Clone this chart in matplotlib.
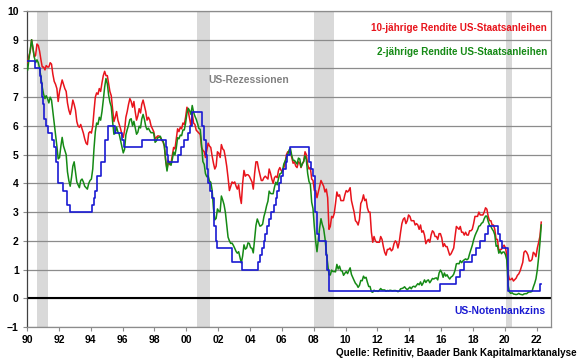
import numpy as np
import pandas as pd
import matplotlib
matplotlib.use('Agg')
import matplotlib.pyplot as plt

plt.rcParams['font.family'] = ['Liberation Sans', 'DejaVu Sans']
plt.rcParams['font.weight'] = 'bold'
#-------------------------------------------------------------------------------
# Data (monthly, starting Jan 1990)
#-------------------------------------------------------------------------------
start_month = '1990-01'

y10 = [8.2, 8.45, 8.6, 9.0, 8.7, 8.4, 8.45, 8.85, 8.8, 8.6, 8.3, 8.05,
       8.05, 7.95, 8.1, 8.05, 8.05, 8.2, 8.15, 7.8, 7.55, 7.45, 7.3, 6.85,
       7.2, 7.4, 7.6, 7.45, 7.3, 7.2, 6.8, 6.55, 6.4, 6.6, 6.9, 6.75,
       6.55, 6.15, 6.0, 5.95, 6.05, 5.9, 5.75, 5.55, 5.4, 5.35, 5.75, 5.8,
       5.75, 6.0, 6.5, 7.0, 7.15, 7.1, 7.3, 7.2, 7.5, 7.75, 7.9, 7.75,
       7.75, 7.45, 7.2, 7.05, 6.6, 6.15, 6.3, 6.5, 6.2, 6.05, 5.9, 5.7,
       5.6, 5.85, 6.3, 6.5, 6.75, 6.95, 6.85, 6.65, 6.85, 6.5, 6.2, 6.35,
       6.6, 6.45, 6.75, 6.9, 6.7, 6.5, 6.2, 6.3, 6.2, 6.0, 5.9, 5.8,
       5.55, 5.6, 5.65, 5.65, 5.6, 5.5, 5.45, 5.3, 4.8, 4.5, 4.8, 4.65,
       4.7, 5.0, 5.25, 5.2, 5.55, 5.9, 5.8, 5.95, 5.9, 6.1, 6.05, 6.3,
       6.65, 6.5, 6.25, 6.0, 6.45, 6.1, 6.05, 5.85, 5.8, 5.75, 5.7, 5.25,
       5.15, 5.1, 4.9, 5.15, 5.4, 5.3, 5.25, 4.95, 4.7, 4.5, 4.6, 5.1,
       5.05, 4.9, 5.35, 5.2, 5.15, 4.9, 4.6, 4.2, 3.75, 3.9, 4.05, 4.0,
       4.05, 3.9, 3.8, 3.95, 3.55, 3.3, 4.0, 4.45, 4.25, 4.3, 4.3, 4.25,
       4.15, 4.05, 3.8, 4.35, 4.75, 4.75, 4.5, 4.3, 4.1, 4.1, 4.2, 4.25,
       4.2, 4.15, 4.5, 4.35, 4.15, 4.0, 4.2, 4.25, 4.2, 4.45, 4.55, 4.45,
       4.4, 4.55, 4.7, 5.0, 5.1, 5.1, 5.1, 4.9, 4.7, 4.75, 4.6, 4.55,
       4.75, 4.7, 4.55, 4.7, 4.75, 5.1, 5.0, 4.65, 4.5, 4.55, 4.15, 4.1,
       3.75, 3.75, 3.5, 3.7, 3.9, 4.1, 4.0, 3.9, 3.7, 3.8, 3.5, 2.4,
       2.5, 2.85, 2.8, 2.95, 3.3, 3.7, 3.55, 3.6, 3.4, 3.4, 3.4, 3.6,
       3.75, 3.7, 3.75, 3.85, 3.4, 3.2, 3.0, 2.7, 2.65, 2.55, 2.75, 3.3,
       3.4, 3.6, 3.4, 3.45, 3.15, 3.0, 3.0, 2.3, 1.95, 2.15, 2.0, 1.95,
       1.95, 1.95, 2.15, 2.05, 1.8, 1.6, 1.5, 1.7, 1.7, 1.75, 1.65, 1.7,
       1.9, 2.0, 1.95, 1.75, 1.95, 2.3, 2.6, 2.75, 2.8, 2.6, 2.7, 2.9,
       2.85, 2.7, 2.7, 2.7, 2.55, 2.6, 2.55, 2.4, 2.55, 2.3, 2.35, 2.2,
       1.9, 2.0, 2.05, 1.95, 2.2, 2.35, 2.3, 2.15, 2.15, 2.05, 2.25, 2.25,
       2.1, 1.8, 1.9, 1.8, 1.8, 1.65, 1.5, 1.55, 1.65, 1.75, 2.15, 2.5,
       2.45, 2.4, 2.5, 2.3, 2.3, 2.2, 2.3, 2.2, 2.2, 2.35, 2.35, 2.4,
       2.6, 2.85, 2.85, 2.85, 3.0, 2.9, 2.9, 2.9, 3.0, 3.15, 3.1, 2.85,
       2.7, 2.7, 2.55, 2.55, 2.4, 2.05, 2.05, 1.65, 1.7, 1.7, 1.8, 1.85,
       1.75, 1.5, 0.85, 0.65, 0.65, 0.7, 0.6, 0.65, 0.7, 0.8, 0.85, 0.95,
       1.1, 1.25, 1.6, 1.65, 1.6, 1.5, 1.3, 1.3, 1.35, 1.6, 1.55, 1.45,
       1.75, 1.95, 2.15, 2.65]

y2 = [7.95, 8.35, 8.65, 9.0, 8.7, 8.4, 8.2, 8.3, 8.2, 8.0, 7.7, 7.35,
      7.1, 6.95, 7.05, 6.95, 6.8, 7.0, 6.9, 6.5, 6.1, 5.7, 5.3, 4.85,
      4.9, 5.3, 5.6, 5.3, 5.15, 5.0, 4.4, 4.1, 3.9, 4.2, 4.6, 4.75,
      4.4, 4.05, 3.95, 3.85, 4.1, 4.15, 4.05, 3.9, 3.85, 3.8, 4.0, 4.1,
      4.15, 4.5, 5.2, 5.8, 6.1, 6.05, 6.3, 6.2, 6.5, 6.9, 7.35, 7.65,
      7.47, 7.06, 6.83, 6.67, 6.17, 5.71, 5.74, 5.96, 5.79, 5.71, 5.50, 5.28,
      5.06, 5.19, 5.69, 5.87, 6.02, 6.22, 6.25, 6.00, 6.16, 5.94, 5.71, 5.78,
      5.99, 5.93, 6.24, 6.40, 6.23, 5.98, 5.87, 5.92, 5.83, 5.76, 5.77, 5.74,
      5.43, 5.48, 5.59, 5.60, 5.64, 5.51, 5.48, 5.31, 4.79, 4.43, 4.75, 4.70,
      4.63, 4.85, 5.09, 4.99, 5.23, 5.59, 5.55, 5.68, 5.66, 5.86, 5.86, 6.10,
      6.44, 6.61, 6.53, 6.40, 6.71, 6.48, 6.34, 6.23, 6.08, 5.91, 5.88, 5.35,
      4.76, 4.66, 4.34, 4.23, 4.26, 4.08, 4.04, 3.76, 3.12, 2.73, 2.78, 3.11,
      3.03, 3.02, 3.56, 3.42, 3.26, 2.99, 2.56, 2.13, 2.00, 1.91, 1.92, 1.84,
      1.74, 1.63, 1.57, 1.62, 1.42, 1.23, 1.47, 1.86, 1.71, 1.75, 1.93, 1.91,
      1.76, 1.74, 1.58, 2.07, 2.53, 2.76, 2.64, 2.51, 2.53, 2.58, 2.85, 3.01,
      3.22, 3.38, 3.73, 3.65, 3.64, 3.64, 3.87, 4.04, 3.95, 4.17, 4.33, 4.35,
      4.45, 4.68, 4.77, 4.90, 5.00, 5.16, 5.22, 4.97, 4.80, 4.80, 4.74, 4.67,
      4.88, 4.85, 4.57, 4.67, 4.77, 4.96, 4.82, 4.34, 4.06, 3.97, 3.34, 3.12,
      2.48, 1.97, 1.62, 2.05, 2.45, 2.77, 2.57, 2.42, 2.08, 1.61, 1.21, 0.82,
      0.81, 0.98, 0.93, 0.93, 0.92, 1.18, 1.02, 1.12, 0.96, 0.95, 0.80, 0.87,
      0.93, 0.86, 0.96, 1.06, 0.83, 0.72, 0.62, 0.52, 0.47, 0.38, 0.45, 0.62,
      0.61, 0.77, 0.70, 0.73, 0.56, 0.41, 0.41, 0.23, 0.21, 0.28, 0.25, 0.26,
      0.24, 0.28, 0.34, 0.29, 0.29, 0.29, 0.25, 0.27, 0.26, 0.28, 0.27, 0.26,
      0.27, 0.27, 0.26, 0.23, 0.25, 0.33, 0.34, 0.36, 0.40, 0.34, 0.30, 0.34,
      0.39, 0.33, 0.40, 0.42, 0.39, 0.45, 0.51, 0.47, 0.57, 0.45, 0.53, 0.64,
      0.55, 0.62, 0.64, 0.54, 0.61, 0.69, 0.67, 0.70, 0.71, 0.64, 0.88, 0.98,
      0.90, 0.73, 0.88, 0.77, 0.82, 0.73, 0.67, 0.74, 0.77, 0.84, 0.98, 1.20,
      1.21, 1.20, 1.31, 1.24, 1.30, 1.34, 1.37, 1.34, 1.38, 1.55, 1.70, 1.84,
      2.03, 2.18, 2.28, 2.38, 2.51, 2.53, 2.61, 2.64, 2.77, 2.86, 2.86, 2.68,
      2.54, 2.50, 2.41, 2.34, 2.21, 1.81, 1.84, 1.57, 1.65, 1.55, 1.61, 1.61,
      1.52, 1.33, 0.45, 0.22, 0.17, 0.19, 0.15, 0.14, 0.13, 0.14, 0.17, 0.14,
      0.13, 0.12, 0.15, 0.16, 0.16, 0.20, 0.22, 0.22, 0.24, 0.39, 0.52, 0.68,
      0.99, 1.44, 1.91, 2.55]

# Fed funds target (upper bound), change dates and new level
fed_dates = ['1990-01-01', '1990-07-13', '1990-10-29', '1990-11-13', '1990-12-07',
             '1990-12-18', '1991-01-09', '1991-02-01', '1991-03-08', '1991-04-30',
             '1991-08-06', '1991-09-13', '1991-10-31', '1991-11-06', '1991-12-06',
             '1991-12-20', '1992-04-09', '1992-07-02', '1992-09-04', '1994-02-04',
             '1994-03-22', '1994-04-18', '1994-05-17', '1994-08-16', '1994-11-15',
             '1995-02-01', '1995-07-06', '1995-12-19', '1996-01-31', '1997-03-25',
             '1998-09-29', '1998-10-15', '1998-11-17', '1999-06-30', '1999-08-24',
             '1999-11-16', '2000-02-02', '2000-03-21', '2000-05-16', '2001-01-03',
             '2001-01-31', '2001-03-20', '2001-04-18', '2001-05-15', '2001-06-27',
             '2001-08-21', '2001-09-17', '2001-10-02', '2001-11-06', '2001-12-11',
             '2002-11-06', '2003-06-25', '2004-06-30', '2004-08-10', '2004-09-21',
             '2004-11-10', '2004-12-14', '2005-02-02', '2005-03-22', '2005-05-03',
             '2005-06-30', '2005-08-09', '2005-09-20', '2005-11-01', '2005-12-13',
             '2006-01-31', '2006-03-28', '2006-05-10', '2006-06-29', '2007-09-18',
             '2007-10-31', '2007-12-11', '2008-01-22', '2008-01-30', '2008-03-18',
             '2008-04-30', '2008-10-08', '2008-10-29', '2008-12-16', '2015-12-17',
             '2016-12-15', '2017-03-16', '2017-06-15', '2017-12-14', '2018-03-22',
             '2018-06-14', '2018-09-27', '2018-12-20', '2019-08-01', '2019-09-19',
             '2019-10-31', '2020-03-04', '2020-03-16', '2022-03-17', '2022-04-15']
fed_rate  = [8.25, 8.0, 7.75, 7.5, 7.25, 7.0, 6.75, 6.25, 6.0, 5.75,
             5.5, 5.25, 5.0, 4.75, 4.5, 4.0, 3.75, 3.25, 3.0, 3.25,
             3.5, 3.75, 4.25, 4.75, 5.5, 6.0, 5.75, 5.5, 5.25, 5.5,
             5.25, 5.0, 4.75, 5.0, 5.25, 5.5, 5.75, 6.0, 6.5, 6.0,
             5.5, 5.0, 4.5, 4.0, 3.75, 3.5, 3.0, 2.5, 2.0, 1.75,
             1.25, 1.0, 1.25, 1.5, 1.75, 2.0, 2.25, 2.5, 2.75, 3.0,
             3.25, 3.5, 3.75, 4.0, 4.25, 4.5, 4.75, 5.0, 5.25, 4.75,
             4.5, 4.25, 3.5, 3.0, 2.25, 2.0, 1.5, 1.0, 0.25, 0.5,
             0.75, 1.0, 1.25, 1.5, 1.75, 2.0, 2.25, 2.5, 2.25, 2.0,
             1.75, 1.25, 0.25, 0.5, 0.5]

# US recessions as shaded in the chart (decimal years)
rec_start = [1990.63, 2000.65, 2008.05, 2020.06]
rec_end   = [1991.32, 2001.50, 2009.30, 2020.44]

#-------------------------------------------------------------------------------
# Helpers
#-------------------------------------------------------------------------------
def dec_year(dates):
    d = pd.to_datetime(dates)
    return np.array(d.year + (d.dayofyear - 1) / 365.25)

x_mon = dec_year(pd.date_range(start_month, periods=len(y10), freq='MS')) + 1/24
x_fed = dec_year(fed_dates)

c_red, c_green, c_blue = '#e8141c', '#158a15', '#1a1ad2'
c_grid = '#8c8c8c'
fs = 7.1

#-------------------------------------------------------------------------------
# Figure
#-------------------------------------------------------------------------------
fig = plt.figure(figsize=(5.8, 3.59), dpi=100)
ax = fig.add_axes([0.0466, 0.0891, 0.9034, 0.8803])

for r0, r1 in zip(rec_start, rec_end):
    ax.axvspan(r0, r1, color='#d9d9d9', lw=0, zorder=0)

for yv in range(-1, 11):
    ax.axhline(yv, color=c_grid, lw=0.9, zorder=1)
ax.axhline(0, color='black', lw=1.5, zorder=2)

ax.plot(x_mon, y10, color=c_red, lw=1.1, zorder=3)
ax.plot(x_mon, y2, color=c_green, lw=1.1, zorder=4)
ax.plot(x_fed, fed_rate, color=c_blue, lw=1.2, drawstyle='steps-post', zorder=5)

ax.set_xlim(1990, 2022.9)
ax.set_ylim(-1, 10)
xt = np.arange(1990, 2023, 2)
ax.set_xticks(xt)
ax.set_xticklabels([f'{int(v) % 100:02d}' for v in xt])
ax.set_yticks(range(-1, 11))
ax.tick_params(axis='both', direction='out', length=3, width=0.8, color=c_grid,
               labelsize=7.5, pad=3)
for lbl in ax.get_xticklabels() + ax.get_yticklabels():
    lbl.set_fontweight('bold')
for s in ax.spines.values():
    s.set_color(c_grid)
    s.set_linewidth(0.9)
ax.spines['left'].set_color('#404040')

# ---- Annotations ----
ax.text(0.992, 0.947, '10-jährige Rendite US-Staatsanleihen', transform=ax.transAxes,
        color=c_red, fontsize=fs, fontweight='bold', ha='right', va='center')
ax.text(0.992, 0.871, '2-jährige Rendite US-Staatsanleihen', transform=ax.transAxes,
        color=c_green, fontsize=fs, fontweight='bold', ha='right', va='center')
ax.text(0.347, 0.781, 'US-Rezessionen', transform=ax.transAxes,
        color='#808080', fontsize=7.4, fontweight='bold', ha='left', va='center')
ax.text(0.989, 0.052, 'US-Notenbankzins', transform=ax.transAxes,
        color=c_blue, fontsize=7.4, fontweight='bold', ha='right', va='center')
fig.text(0.994, 0.0175, 'Quelle: Refinitiv, Baader Bank Kapitalmarktanalyse',
         fontsize=fs, fontweight='bold', ha='right', va='center')

fig.savefig('out.png', dpi=100)
plt.close(fig)
